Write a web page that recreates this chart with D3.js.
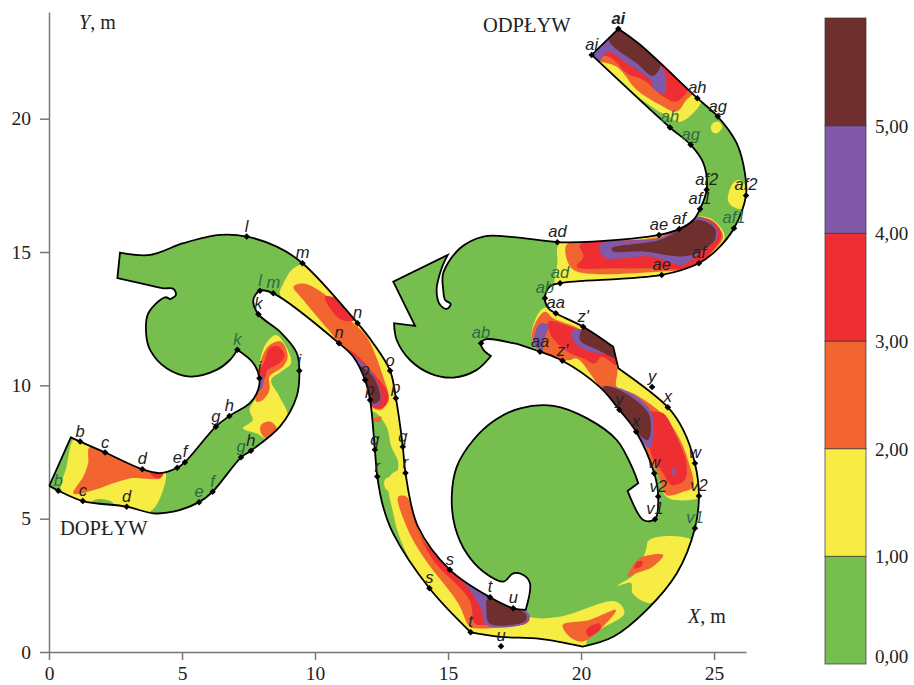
<!DOCTYPE html>
<html>
<head>
<meta charset="utf-8">
<script src="https://cdn.jsdelivr.net/npm/d3@7"></script>
<style>
  body { margin: 0; background: #fff; }
  text { font-family: "Liberation Serif", serif; fill: #222; }
  .gauge { font-family: "Liberation Sans", sans-serif; font-style: italic; font-size: 16.5px; }
</style>
</head>
<body>
<div id="chart"></div>
<script>
// channel outline, metres
const outline = [[0.01,6.23],[0.82,8.05],[1.17,7.89],[2.11,7.48],[3.51,6.85],[4.17,6.71],[4.82,6.91],[5.11,7.12],[6.27,8.45],[6.78,8.85],[7.56,9.34],[7.86,9.83],[7.91,10.27],[7.68,10.83],[7.08,11.33],[6.80,10.95],[6.30,10.58],[5.30,10.33],[4.42,10.64],[3.80,11.33],[3.65,11.95],[3.73,12.70],[4.36,13.30],[4.55,13.23],[4.77,13.39],[4.67,13.62],[4.30,13.64],[3.42,13.83],[2.57,14.02],[2.67,14.98],[3.80,14.89],[5.05,15.33],[6.43,15.64],[7.43,15.58],[8.56,15.20],[9.53,14.58],[11.60,12.33],[12.18,11.59],[12.82,10.55],[13.04,9.52],[13.30,7.70],[13.40,6.71],[13.87,4.70],[15.07,3.08],[16.58,2.05],[17.45,1.64],[17.92,1.58],[18.08,2.58],[17.83,2.89],[17.45,2.95],[17.08,2.64],[16.33,3.01],[15.70,3.70],[15.26,4.70],[15.14,5.83],[15.33,6.95],[15.95,7.95],[16.77,8.70],[17.71,9.14],[18.96,9.23],[20.21,8.77],[21.34,7.95],[21.96,6.83],[22.15,6.33],[21.75,6.04],[22.34,4.95],[22.78,4.98],[22.90,5.83],[22.75,6.70],[22.07,8.26],[21.44,9.08],[20.71,9.93],[19.30,10.92],[18.46,11.26],[17.71,11.52],[17.45,11.58],[16.45,11.73],[16.24,11.58],[16.33,11.33],[16.61,11.10],[16.08,10.58],[15.20,10.29],[14.32,10.45],[13.57,10.95],[13.07,11.70],[12.97,12.33],[13.76,12.23],[12.94,13.89],[14.99,14.89],[14.76,14.39],[14.57,13.58],[14.70,13.02],[14.95,12.87],[15.10,13.05],[14.89,13.20],[14.82,13.58],[14.82,14.21],[15.45,15.14],[16.33,15.58],[17.45,15.56],[19.11,15.37],[20.45,15.39],[22.93,15.64],[23.69,15.86],[24.22,16.20],[24.47,16.61],[24.72,17.33],[24.60,18.33],[24.12,19.02],[23.34,19.67],[20.40,22.39],[21.40,23.37],[22.22,22.77],[24.37,20.77],[25.14,20.08],[25.85,19.08],[26.16,17.96],[26.20,17.12],[25.75,15.89],[25.10,15.08],[24.43,14.58],[23.03,14.14],[19.21,13.83],[18.83,13.70],[18.64,13.27],[18.77,12.89],[19.05,12.70],[20.08,12.20],[21.21,11.45],[21.40,10.64],[23.26,9.18],[23.84,8.33],[24.28,7.08],[24.43,5.85],[24.28,4.64],[23.60,2.95],[22.47,1.58],[21.21,0.57],[20.06,0.20],[18.46,0.49],[16.95,0.57],[15.85,0.74],[14.30,2.39],[12.93,4.46],[12.56,5.45],[12.34,6.58],[12.25,7.58],[12.07,9.45],[11.88,10.20],[11.43,11.08],[10.90,11.58],[8.43,13.45],[7.93,13.55],[7.68,13.20],[7.87,12.67],[8.68,12.01],[9.31,11.22],[9.41,10.55],[9.31,9.58],[8.68,8.45],[7.59,7.55],[7.22,7.30],[6.15,6.01],[5.64,5.62],[4.67,5.26],[3.92,5.20],[2.92,5.45],[1.27,5.66],[0.35,6.05]];

// outline vertices that are real corners of the walls, not bends
const wallCorners = [[0.01,6.23],[0.82,8.05],[7.08,11.33],[2.57,14.02],[2.67,14.98],[4.55,13.23],[17.92,1.58],[22.15,6.33],[21.75,6.04],[16.61,11.10],[12.97,12.33],[13.76,12.23],[12.94,13.89],[14.99,14.89],[20.40,22.39],[21.40,23.37],[21.21,11.45],[21.40,10.64],[20.06,0.20],[15.85,0.74]];

// zones of depth, metres; painted in rising order over the green base
const zones1to2 = [
  [[0.97,8.01],[1.66,7.76],[3.41,7.0],[4.35,6.8],[4.29,6.08],[3.79,5.26],[2.66,5.26],[2.35,5.64],[1.79,5.73],[1.29,5.5],[0.47,6.0],[0.66,6.95]],
  [[8.54,11.89],[8.97,11.33],[9.10,10.83],[8.72,10.51],[8.35,10.2],[8.66,9.58],[8.97,8.83],[8.35,7.95],[7.79,8.2],[7.29,8.39],[7.66,8.7],[7.54,9.08],[7.79,9.58],[7.79,10.08],[7.97,11.08],[8.16,11.58]],
  [[9.19,14.39],[9.62,14.51],[11.6,12.45],[12.06,12.01],[12.75,10.7],[13.25,9.45],[13.44,7.95],[13.56,6.7],[13.69,6.08],[12.69,6.08],[12.62,6.45],[13.06,6.7],[13.12,7.14],[12.87,7.7],[12.69,8.45],[12.31,8.95],[12.06,9.08],[12.0,9.45],[11.75,10.45],[10.87,11.51],[8.69,13.39],[8.81,13.82]],
  [[12.75,6.45],[13.0,6.76],[13.5,6.76],[13.88,4.95],[15.06,3.26],[16.69,2.08],[18.06,1.32],[19.19,1.32],[21.31,1.89],[21.63,1.45],[20.31,0.58],[20.04,0.01],[18.44,0.26],[16.94,0.32],[15.75,0.51],[14.31,2.26],[13.56,3.45],[13.13,4.45],[12.94,5.2]],
  [[22.56,4.2],[23.69,4.33],[24.31,4.08],[23.69,2.95],[23.0,2.08],[22.56,1.83],[21.94,2.2],[21.88,2.58],[21.38,2.49],[22.06,2.95],[22.44,3.83]],
  [[18.59,12.89],[19.02,12.82],[20.09,12.32],[21.46,10.76],[23.34,9.26],[23.96,8.32],[24.46,6.95],[24.46,5.82],[24.09,5.7],[23.21,5.82],[22.84,6.95],[20.71,9.89],[19.3,10.82],[18.46,11.2],[18.15,11.82],[18.27,12.45]],
  [[19.19,15.36],[20.71,15.46],[22.96,15.71],[23.71,16.02],[24.34,16.33],[24.96,16.2],[25.4,15.58],[24.96,14.95],[24.46,14.39],[23.02,14.02],[19.09,13.64],[19.11,14.58]],
  [[20.0,22.3],[21.4,23.9],[23.0,22.4],[24.6,20.9],[23.77,19.89],[23.27,20.08],[22.21,20.77],[21.15,21.7]],
  [[24.9,19.77],[25.15,19.89],[25.31,19.7],[25.09,19.45],[24.92,19.52]],
  [[25.71,17.58],[25.96,17.7],[26.27,17.27],[26.15,16.64],[25.71,16.7],[25.52,16.95]]
];
const zones2to3 = [
  [[1.54,7.7],[3.47,6.95],[4.29,6.76],[4.1,6.51],[3.04,6.51],[1.72,6.08],[1.16,5.93],[0.91,5.95],[1.29,6.58],[1.47,7.08]],
  [[8.29,11.51],[8.72,11.64],[8.97,11.08],[8.79,10.7],[8.29,10.33],[8.29,9.83],[8.04,9.45],[7.79,9.39],[7.79,9.83],[7.85,10.33],[7.97,10.95]],
  [[7.97,8.51],[8.29,8.64],[8.56,8.39],[8.29,7.95],[7.97,8.2]],
  [[9.19,13.7],[9.56,13.82],[10.31,13.45],[11.31,12.45],[11.94,11.82],[12.56,10.32],[12.77,9.45],[12.44,9.07],[12.06,9.26],[11.81,10.45],[10.87,11.64],[9.56,13.2]],
  [[12.21,8.76],[12.5,8.82],[12.44,8.64],[12.25,8.64]],
  [[13.13,5.82],[13.44,5.82],[13.94,4.45],[15.13,3.14],[16.5,2.08],[18.06,1.39],[17.94,1.14],[17.19,0.95],[16.06,0.89],[15.81,0.95],[15.38,1.83],[14.06,3.58],[13.44,4.7]],
  [[19.31,1.01],[20.31,1.2],[21.31,1.57],[20.75,0.89],[20.06,0.39],[19.56,0.58]],
  [[21.75,2.82],[22.19,3.51],[23.09,3.64],[22.69,3.2],[22.06,2.95]],
  [[18.34,12.45],[18.65,12.76],[18.96,12.51],[20.02,12.07],[21.34,10.7],[21.34,9.95],[21.96,9.7],[22.96,9.01],[23.59,8.2],[24.02,7.2],[24.21,6.2],[23.84,6.01],[23.21,5.89],[22.84,6.82],[20.65,10.01],[19.84,11.01],[19.59,10.95],[19.3,10.95],[18.46,11.26],[18.15,11.82]],
  [[19.46,15.27],[20.71,15.39],[22.96,15.58],[23.71,15.96],[24.34,16.27],[24.9,16.2],[25.34,15.58],[24.9,14.95],[24.34,14.45],[23.02,14.27],[19.84,14.27],[19.52,14.58]],
  [[20.0,22.4],[21.4,23.85],[23.0,22.35],[24.35,21.15],[23.96,20.7],[23.59,20.27],[22.96,20.52],[22.09,21.08],[21.34,21.95]]
];
const zones3to4 = [
  [[3.79,6.76],[4.29,6.7],[4.16,6.5],[3.91,6.58]],
  [[8.29,11.39],[8.6,11.47],[8.85,11.14],[8.66,10.83],[8.22,10.58],[8.1,10.26],[7.91,10.2],[7.85,10.39],[8.1,10.89]],
  [[10.37,13.32],[10.81,13.26],[11.5,12.45],[11.0,12.45],[10.56,12.89]],
  [[11.25,11.32],[11.5,11.2],[12.31,10.32],[12.69,9.82],[12.75,9.45],[12.5,9.14],[12.06,9.26],[11.81,10.45]],
  [[13.63,5.45],[14.06,4.2],[15.13,3.14],[16.5,2.08],[18.06,1.32],[17.94,1.07],[16.31,1.01],[16.0,1.07],[15.81,1.95],[14.44,3.45],[13.81,4.7]],
  [[20.19,0.82],[20.69,1.07],[20.75,0.89],[20.31,0.58]],
  [[22.0,3.14],[22.13,3.39],[22.31,3.39],[22.25,3.2]],
  [[18.77,12.39],[19.59,12.2],[21.27,11.39],[21.34,10.76],[20.77,11.07],[20.52,10.82],[20.09,11.01],[19.59,11.2],[18.9,11.82]],
  [[20.77,9.92],[21.46,9.76],[22.52,9.07],[23.09,8.95],[23.59,8.07],[23.96,7.07],[23.9,6.45],[23.4,6.26],[23.09,6.7],[22.59,7.57],[22.71,8.57],[21.84,9.45]],
  [[19.96,15.27],[22.96,15.52],[23.71,15.89],[24.34,16.33],[25.09,16.02],[25.27,15.58],[24.59,14.7],[23.96,14.39],[22.71,14.39],[21.34,14.39],[19.84,14.45],[20.09,14.83]],
  [[20.0,22.45],[21.4,23.8],[22.9,22.4],[24.1,21.35],[23.59,20.64],[23.09,20.83],[22.34,21.45],[21.71,21.7],[21.09,22.3]]
];
const zones4to5 = [
  [[7.85,10.33],[8.06,10.33],[7.97,9.83],[7.85,9.83]],
  [[11.37,11.14],[12.12,10.51],[12.5,9.57],[12.37,9.26],[12.06,9.32],[11.75,10.57]],
  [[15.19,3.01],[16.56,2.14],[18.06,1.39],[17.88,1.07],[16.44,1.01],[16.25,1.58],[15.81,2.33]],
  [[18.46,12.32],[18.77,12.26],[18.65,11.82],[18.52,11.26],[18.21,11.57],[18.27,11.95]],
  [[19.65,12.01],[20.09,12.1],[21.27,11.45],[20.84,11.2],[19.84,11.51]],
  [[20.77,9.92],[21.46,9.89],[22.52,9.2],[22.74,8.57],[22.59,7.64],[22.46,7.7],[22.09,8.2],[21.4,9.01]],
  [[23.46,6.89],[23.56,6.89],[23.52,6.64],[23.44,6.64]],
  [[20.71,15.27],[20.96,15.39],[22.96,15.52],[23.71,15.89],[24.34,16.3],[25.06,15.95],[25.11,15.52],[24.34,14.89],[23.84,14.52],[22.59,14.83],[20.96,14.77],[20.71,15.02]],
  [[20.3,22.45],[20.96,22.95],[21.15,23.3],[21.96,22.8],[22.77,22.1],[23.11,21.83],[23.15,20.95],[22.77,21.08],[22.59,21.45],[21.71,22.08],[21.02,22.5],[20.6,22.1]]
];
const zonesOver5 = [
  [[11.62,10.76],[12.19,10.32],[12.44,9.45],[12.12,9.32],[11.87,10.32]],
  [[16.5,2.01],[17.94,1.39],[17.88,1.14],[16.56,1.07],[16.44,1.58]],
  [[20.09,12.14],[20.77,11.82],[21.34,11.39],[21.4,11.01],[20.65,11.32],[19.96,11.7]],
  [[20.84,9.95],[21.46,9.82],[22.46,9.07],[22.62,8.64],[22.52,7.95],[22.06,8.26],[21.4,9.07]],
  [[21.15,15.14],[22.96,15.45],[23.71,15.83],[24.4,16.2],[25.02,15.89],[25.02,15.45],[24.34,14.95],[23.77,14.83],[22.34,15.02],[21.21,15.02]],
  [[21.0,23.1],[21.4,23.6],[22.5,22.8],[23.0,22.1],[22.71,21.6],[22.09,22.08],[21.15,22.77]]
];

// measuring points along the banks
const gaugeNames = ["b","c","d","e","f","g","h","i","k","i","b","c","d","e","f","g","h","l","m","l","m","k","n","n","o","o","p","p","q","q","r","r","s","s","t","t","u","u","v1","v1","v2","v2","w","w","x","y","x","y","z'","z'","aa","aa","ab","ab","ad","ad","ae","af","af1","af2","ae","af","af1","af2","ag","ah","ag","ah","ai","ai"];
const gaugeX = [1.17,2.11,3.51,4.82,5.11,6.27,6.78,7.91,7.08,9.41,0.35,1.27,2.92,5.64,6.15,7.22,7.59,7.43,9.53,7.93,8.43,7.87,11.60,10.90,12.82,11.88,12.07,13.04,13.30,12.25,12.34,13.40,14.30,15.07,15.85,16.58,17.45,16.99,22.78,24.28,22.90,24.43,22.75,24.28,22.07,21.44,23.26,22.67,19.30,20.08,18.46,19.05,16.24,18.64,19.21,19.11,22.93,23.69,24.47,24.72,23.03,24.43,25.75,26.20,25.14,24.37,24.12,23.34,20.40,21.40];
const gaugeY = [7.89,7.48,6.85,6.91,7.12,8.45,8.85,10.27,11.33,10.55,6.05,5.66,5.45,5.62,6.01,7.30,7.55,15.58,14.58,13.55,13.45,12.67,12.33,11.58,10.55,10.20,9.45,9.52,7.70,7.58,6.58,6.71,2.39,3.08,0.74,2.05,1.64,0.22,4.98,4.64,5.83,5.85,6.70,7.08,8.26,9.08,9.18,9.94,10.92,12.20,11.26,12.70,11.58,13.27,13.83,15.37,15.64,15.86,16.61,17.33,14.14,14.58,15.89,17.12,20.08,20.77,19.02,19.67,22.39,23.37];

const xTicks = [0, 5, 10, 15, 20, 25];
const yTicks = [0, 5, 10, 15, 20];
const legendLevels = [0, 1, 2, 3, 4, 5];
const legendLabels = ["0,00", "1,00", "2,00", "3,00", "4,00", "5,00"];
const legendTop = 6;

const colors = ["#76bf4f", "#f6ec44", "#f26531", "#ee2e32", "#8059a8", "#6f2f2f"];
const onGreen = new Set([8, 10, 13, 14, 15, 19, 20, 39, 52, 53, 54, 62, 66, 67]);

const svg = d3.select("#chart").append("svg").attr("width", 914).attr("height", 685);

const x = d3.scaleLinear().domain([0, 26.2]).range([49, 746]);
const y = d3.scaleLinear().domain([0, 24]).range([652, 12]);

const blob = d3.line().x(d => x(d[0])).y(d => y(d[1])).curve(d3.curveCatmullRomClosed.alpha(0.5));

// a doubled vertex makes the spline turn sharply there
const isCorner = p => wallCorners.some(c => c[0] === p[0] && c[1] === p[1]);
const wallPath = blob(outline.flatMap(p => isCorner(p) ? [p, p] : [p]));

svg.append("clipPath").attr("id", "channel").append("path").attr("d", wallPath);

// axes
const xAxis = svg.append("g").attr("transform", "translate(0,652)")
  .call(d3.axisBottom(x).tickValues(xTicks).tickSize(8).tickPadding(6).tickSizeOuter(0));
const yAxis = svg.append("g").attr("transform", "translate(49,0)")
  .call(d3.axisLeft(y).tickValues(yTicks).tickSize(9).tickPadding(9).tickSizeOuter(0));
[xAxis, yAxis].forEach(a => {
  a.selectAll("path, line").attr("stroke", "#777").attr("stroke-width", 1.5);
  a.selectAll("text").attr("font-family", "Liberation Serif").attr("font-size", 19.5).attr("fill", "#222");
});

// the water body
svg.append("path").attr("d", wallPath).attr("fill", colors[0]);
const painted = svg.append("g").attr("clip-path", "url(#channel)");
[zones1to2, zones2to3, zones3to4, zones4to5, zonesOver5].forEach((zones, i) => {
  painted.selectAll(null).data(zones).join("path")
    .attr("d", blob)
    .attr("fill", colors[i + 1]);
});
svg.append("path").attr("d", wallPath)
  .attr("fill", "none").attr("stroke", "#000").attr("stroke-width", 1.8);

// measuring points
const gauges = gaugeNames.map((name, i) => ({ name, i, x: gaugeX[i], y: gaugeY[i] }));
svg.selectAll("rect.mark").data(gauges).join("rect")
  .attr("class", "mark")
  .attr("x", -2.3).attr("y", -2.3).attr("width", 4.6).attr("height", 4.6)
  .attr("fill", "#000")
  .attr("transform", d => `translate(${x(d.x)},${y(d.y)}) rotate(45)`);
svg.selectAll("text.gauge").data(gauges).join("text")
  .attr("class", "gauge")
  .attr("x", d => x(d.x))
  .attr("y", d => y(d.y) - 11)
  .attr("text-anchor", "middle")
  .attr("dominant-baseline", "central")
  .style("fill", d => onGreen.has(d.i) ? "#2b6a44" : "#222")
  .style("font-weight", d => d.i === 69 ? "bold" : null)
  .text(d => d.name);

// titles
const yName = svg.append("text").attr("x", 79).attr("y", 29).attr("font-size", 20);
yName.append("tspan").attr("font-style", "italic").text("Y");
yName.append("tspan").text(", m");
const xName = svg.append("text").attr("x", 688).attr("y", 623).attr("font-size", 20);
xName.append("tspan").attr("font-style", "italic").text("X");
xName.append("tspan").text(", m");
svg.append("text").attr("x", 483).attr("y", 32).attr("font-size", 20.5).text("ODPŁYW");
svg.append("text").attr("x", 60).attr("y", 535).attr("font-size", 20.5).text("DOPŁYW");

// legend
const legend = d3.scaleLinear().domain([0, legendTop]).range([664, 18]);
const steps = legendLevels.map((lo, i) => ({ lo, hi: i < 5 ? legendLevels[i + 1] : legendTop, color: colors[i] }));
svg.selectAll("rect.step").data(steps).join("rect")
  .attr("class", "step")
  .attr("x", 825).attr("width", 41)
  .attr("y", d => legend(d.hi))
  .attr("height", d => legend(d.lo) - legend(d.hi))
  .attr("fill", d => d.color)
  .attr("stroke", "#333").attr("stroke-opacity", 0.7).attr("stroke-width", 1);
svg.selectAll("text.level").data(legendLevels).join("text")
  .attr("class", "level")
  .attr("x", 875)
  .attr("y", d => legend(d) + (d === 0 ? -1 : 7))
  .attr("font-size", 19)
  .text((d, i) => legendLabels[i]);
</script>
</body>
</html>
